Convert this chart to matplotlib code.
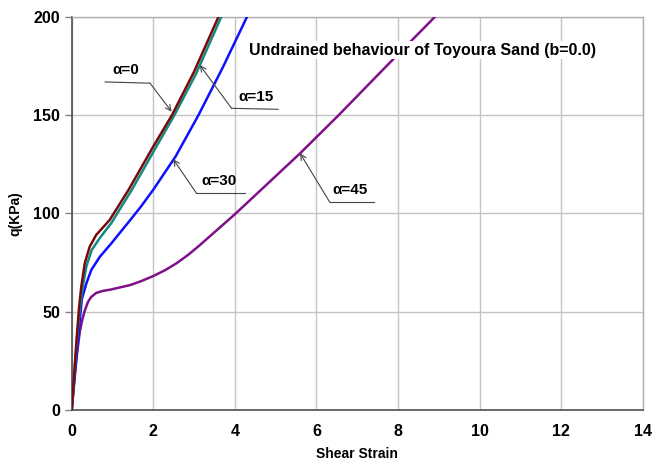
import matplotlib
matplotlib.use("Agg")
import matplotlib.pyplot as plt
from matplotlib import font_manager

names = {f.name for f in font_manager.fontManager.ttflist}
fam = ['Liberation Sans Narrow', 'DejaVu Sans'] if 'Liberation Sans Narrow' in names else ['Liberation Sans', 'DejaVu Sans']
plt.rcParams['font.family'] = fam
plt.rcParams['font.weight'] = 'bold'

# Data
x_a0 = [0, 0.06, 0.12, 0.18, 0.235, 0.32, 0.44, 0.6, 0.93, 1.39, 2.0, 2.46, 3.0, 3.6]
q_a0 = [0, 18, 36, 52, 62.7, 74.6, 83, 89, 96.6, 111.8, 134, 150, 172, 200]

x_a15 = [0, 0.06, 0.12, 0.19, 0.27, 0.36, 0.49, 0.69, 0.97, 1.47, 2.05, 2.52, 3.05, 3.67]
q_a15 = [0, 17, 34, 50, 62.7, 73, 81.3, 87.5, 95, 111.8, 133, 150, 171, 200]

x_a30 = [0, 0.06, 0.12, 0.18, 0.25, 0.36, 0.48, 0.69, 0.97, 1.42, 1.7, 2.0, 2.55, 3.11, 3.7, 4.3]
q_a30 = [0, 14, 28, 42, 56.5, 64.4, 71.2, 77.9, 84.7, 96.2, 103.5, 112, 129, 150, 174, 200]

x_a45 = [0, 0.06, 0.12, 0.2, 0.26, 0.32, 0.4, 0.48, 0.6, 0.75, 0.95, 1.22, 1.43, 1.7, 2.0,
         2.3, 2.57, 2.85, 3.14, 3.6, 4.01, 4.8, 5.6, 6.55, 7.7, 8.91]
q_a45 = [0, 14, 27, 40, 46, 50.5, 55, 57.5, 59.5, 60.5, 61.2, 62.5, 63.5, 65.5, 68.1,
         71.2, 74.6, 78.8, 83.8, 92.2, 99.7, 115, 130.5, 150, 174.5, 200]

series_labels = ['α=0', 'α=15', 'α=30', 'α=45']
series_colors = ['#7a0a0a', '#128a80', '#1010ff', '#80108a']

# callout geometry: (tip, elbow, end, text position)
callouts = [
    ((2.45, 151.7), (1.92, 166.2), (0.82, 166.8), (1.33, 173.0)),
    ((3.14, 175.4), (3.92, 153.4), (5.06, 152.9), (4.52, 159.4)),
    ((2.49, 127.5), (3.06, 110.2), (4.25, 110.2), (3.61, 116.2)),
    ((5.60, 130.5), (6.33, 105.6), (7.41, 105.6), (6.82, 111.8)),
]

x_ticks = [0, 2, 4, 6, 8, 10, 12, 14]
y_ticks = [0, 50, 100, 150, 200]

fig = plt.figure(figsize=(6.67, 4.70), dpi=100)
ax = fig.add_axes([0.1075, 0.1277, 0.856, 0.8368])

xs = [x_a0, x_a15, x_a30, x_a45]
qs = [q_a0, q_a15, q_a30, q_a45]
order = [3, 2, 1, 0]
for i in order:
    ax.plot(xs[i], qs[i], color=series_colors[i], lw=1.8, solid_capstyle='round',
            solid_joinstyle='round', zorder=3)

for lab, (tip, elbow, end, tpos) in zip(series_labels, callouts):
    ax.plot([end[0], elbow[0]], [end[1], elbow[1]], color='#444444', lw=0.8, zorder=4)
    ax.annotate('', xy=tip, xytext=elbow,
                arrowprops=dict(arrowstyle='->', color='#444444', lw=0.8,
                                shrinkA=0, shrinkB=0, mutation_scale=10), zorder=4)
    ax.text(tpos[0], tpos[1], lab, ha='center', va='center', fontsize=11,
            fontweight='bold', color='black', zorder=5)

ax.text(8.59, 183, 'Undrained behaviour of Toyoura Sand (b=0.0)', ha='center', va='center',
        fontsize=11.5, fontweight='bold', color='black', zorder=5,
        bbox=dict(facecolor='white', edgecolor='none', pad=1))

ax.set_xlim(0, 14)
ax.set_ylim(0, 200)
ax.set_xticks(x_ticks)
ax.set_yticks(y_ticks)
ax.grid(True, color='#c4c4c4', lw=1.0, zorder=0)
ax.set_axisbelow(True)
for s in ['top', 'right']:
    ax.spines[s].set_color('#b0b0b0')
    ax.spines[s].set_linewidth(1.0)
for s in ['left', 'bottom']:
    ax.spines[s].set_color('#505050')
    ax.spines[s].set_linewidth(1.2)
ax.tick_params(axis='both', colors='#808080', labelcolor='black', labelsize=11.5, length=5, width=1)
ax.tick_params(axis='x', length=0, pad=10)
for t in ax.get_xticklabels() + ax.get_yticklabels():
    t.set_fontweight('bold')

ax.set_xlabel('Shear Strain', fontsize=10, fontweight='bold', labelpad=6)
ax.set_ylabel('q(KPa)', fontsize=10, fontweight='bold', labelpad=8)

fig.savefig('out.png', dpi=100)
